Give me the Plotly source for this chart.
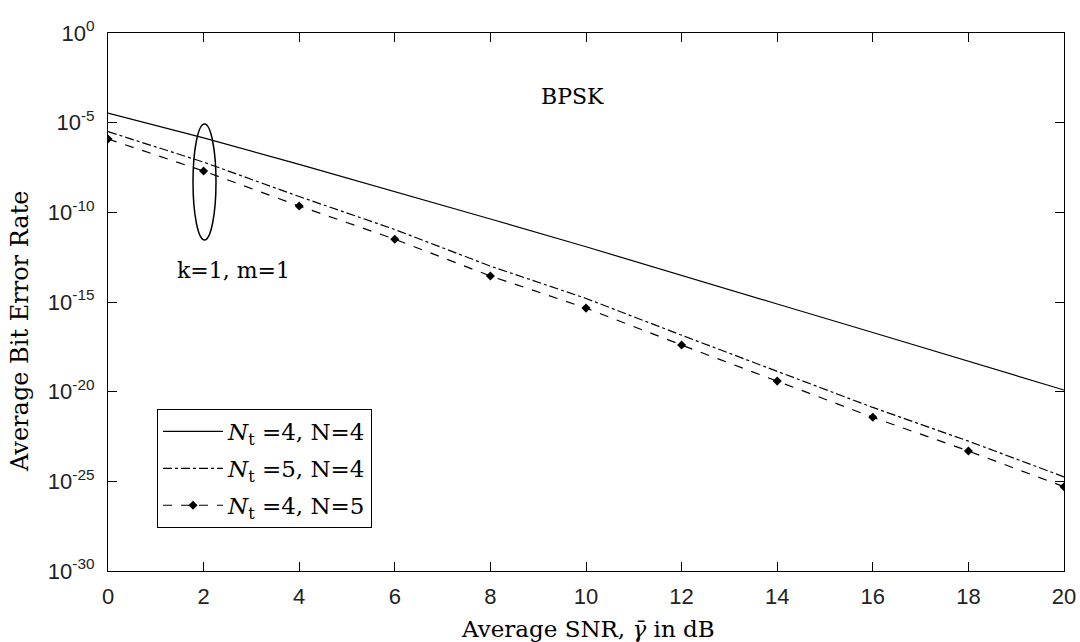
import plotly.graph_objects as go

snr_db = [0, 2, 4, 6, 8, 10, 12, 14, 16, 18, 20]

ber_nt4_n4 = [3.39e-5, 1.41e-6, 4.68e-8, 1.48e-9, 4.27e-11, 1.20e-12,
              2.95e-14, 7.76e-16, 2.0e-17, 5.0e-19, 1.23e-20]
ber_nt5_n4 = [3.16e-6, 6.31e-8, 7.59e-10, 1.10e-11, 1.0e-13, 1.58e-15,
              1.41e-17, 1.38e-19, 1.32e-21, 1.74e-23, 1.78e-25]
ber_nt4_n5 = [1.23e-6, 2.0e-8, 2.24e-10, 3.16e-12, 2.82e-14, 4.57e-16,
              3.98e-18, 3.89e-20, 3.72e-22, 4.9e-24, 5.0e-26]

series_names = ["<i>N</i><sub>t</sub> =4, N=4",
                "<i>N</i><sub>t</sub> =5, N=4",
                "<i>N</i><sub>t</sub> =4, N=5"]

x_ticks = [0, 2, 4, 6, 8, 10, 12, 14, 16, 18, 20]
y_tickvals = [1e0, 1e-5, 1e-10, 1e-15, 1e-20, 1e-25, 1e-30]
y_ticktext = ["10<sup>0</sup>", "10<sup>-5</sup>", "10<sup>-10</sup>", "10<sup>-15</sup>",
              "10<sup>-20</sup>", "10<sup>-25</sup>", "10<sup>-30</sup>"]

W, H = 1080, 642
PL, PR, PT, PB = 108, 1064, 33, 571  # plot area in pixels
L, R, T, B = PL, W - PR, PT, H - PB
pw, ph = PR - PL, PB - PT

def px2paper(px, py):
    return (px - PL) / pw, (PB - py) / ph

serif = "DejaVu Serif"
sans = "Liberation Sans"

fig = go.Figure()
fig.add_trace(go.Scatter(x=snr_db, y=ber_nt4_n4, mode="lines", name=series_names[0],
                         legendgroup="a",
                         line=dict(color="black", width=1.2, dash="solid")))
fig.add_trace(go.Scatter(x=snr_db, y=ber_nt5_n4, mode="lines", name=series_names[1],
                         legendgroup="b",
                         line=dict(color="black", width=1.2, dash="dashdot")))
fig.add_trace(go.Scatter(x=snr_db, y=ber_nt4_n5, mode="lines+markers", name=series_names[2],
                         legendgroup="c",
                         line=dict(color="black", width=1.2, dash="dash"),
                         marker=dict(symbol="diamond", size=7, color="black")))

axis_common = dict(showgrid=False, zeroline=False, showline=True, linecolor="black",
                   linewidth=1, mirror="ticks", ticks="inside", ticklen=9,
                   tickcolor="black", tickwidth=1, automargin=False,
                   tickfont=dict(family=sans, size=22, color="#222"))

fig.update_xaxes(range=[0, 20], tickvals=x_ticks, ticklabelstandoff=6, **axis_common)
fig.update_yaxes(type="log", range=[-30, 0], tickvals=y_tickvals, ticktext=y_ticktext,
                 ticklabelstandoff=8, **axis_common)

ann = []
def add_text(px, py, text, size, angle=0):
    x0, y0 = px2paper(px, py)
    ann.append(dict(x=x0, y=y0, xref="paper", yref="paper", showarrow=False,
                    xanchor="center", yanchor="middle", textangle=angle,
                    text=text, font=dict(family=serif, size=size, color="black")))

add_text(588, 629, "Average SNR, <i>γ̄</i> in dB", 23)
add_text(20, 332, "Average Bit Error Rate", 24, angle=-90)
add_text(572, 96, "BPSK", 22)
add_text(233, 270, "k=1, m=1", 22)

ex0, ey0 = px2paper(193, 124)
ex1, ey1 = px2paper(216, 240)
fig.add_shape(type="circle", xref="paper", yref="paper", x0=ex0, x1=ex1, y0=ey1, y1=ey0,
              line=dict(color="black", width=1.5))

lx, ly = px2paper(157, 409)
fig.update_layout(
    width=W, height=H,
    margin=dict(l=L, r=R, t=T, b=B, autoexpand=False),
    paper_bgcolor="white", plot_bgcolor="white",
    annotations=ann,
    showlegend=True,
    legend=dict(x=lx, y=ly, xanchor="left", yanchor="top", bgcolor="white",
                bordercolor="black", borderwidth=1,
                font=dict(family=serif, size=23, color="black"),
                itemwidth=60, tracegroupgap=4),
)

fig.write_html("out.html", config={"displayModeBar": False},
               post_script="document.body.style.margin='0';document.body.style.overflow='hidden';")
